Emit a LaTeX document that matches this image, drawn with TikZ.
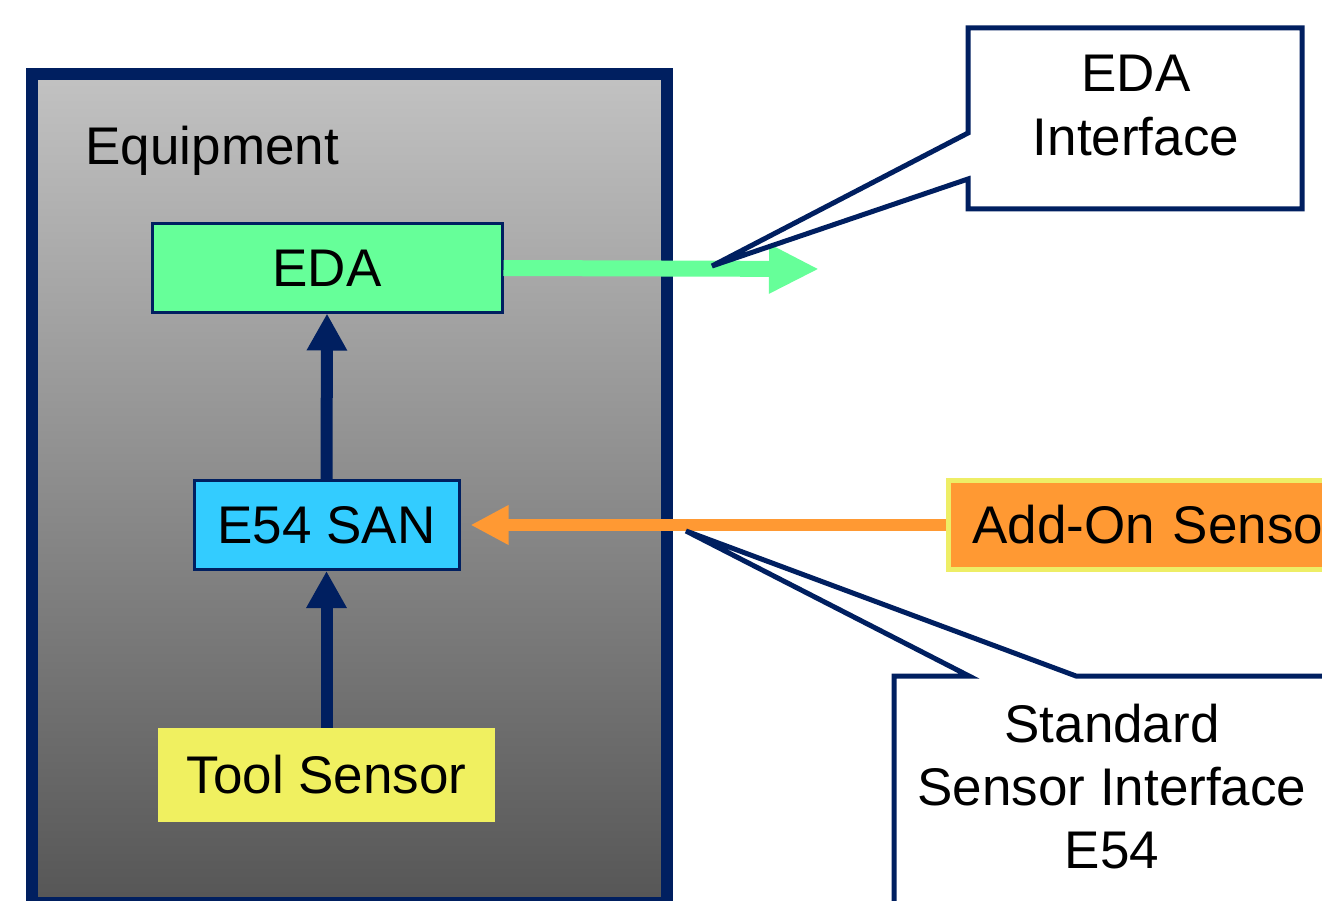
\documentclass[tikz,border=0pt]{standalone}
\usepackage{fontspec}
\setmainfont{Liberation Sans}
\usetikzlibrary{arrows.meta}
\definecolor{navy}{RGB}{0,31,96}
\definecolor{edagreen}{RGB}{102,255,153}
\definecolor{sancyan}{RGB}{51,204,255}
\definecolor{toolyellow}{RGB}{240,240,96}
\definecolor{addorange}{RGB}{255,153,51}
\definecolor{addborder}{RGB}{238,238,102}
\tikzset{
  txt/.style={font=\fontsize{53}{63}\selectfont, text=black},
  block/.style={txt, rectangle, inner sep=0pt},
  upflow/.style={line width=12pt, draw=navy, -{Triangle[length=37pt,width=38pt]}},
  callout/.style={line width=5pt, draw=navy, fill=white, line join=miter},
}
\begin{document}
\begin{tikzpicture}[x=1pt,y=-1pt]
\clip (0,0) rectangle (1322,901);
\fill[white] (0,0) rectangle (1322,901);

% equipment enclosure
\draw[line width=12pt, draw=navy, top color={rgb,255:red,194;green,194;blue,194}, bottom color={rgb,255:red,86;green,86;blue,86}]
  (32,74) rectangle (667,903);
\node[txt, anchor=base west] (equip) at (82,165) {Equipment};

% function blocks
\node[block, draw=navy, line width=3pt, fill=edagreen, minimum width=350pt, minimum height=88pt] (eda) at (327,268) {EDA};
\node[block, draw=navy, line width=3pt, fill=sancyan, minimum width=265pt, minimum height=89pt] (san) at (326.5,525) {E54 SAN};
\node[block, fill=toolyellow, minimum width=337pt, minimum height=94pt] (tool) at (326.5,775) {Tool Sensor};

% external sensor
\node[block, draw=addborder, line width=5pt, fill=addorange, anchor=west, minimum width=400pt, minimum height=89pt,
      text width=400pt, align=left, inner xsep=0pt] (addon) at (946,525) {\hspace*{24pt}Add-On Sensor};

% data flows
\coordinate (edaout) at (819,269);
\draw[upflow] (tool.north) -- (san.south);
\draw[upflow] (san.north) -- (eda.south);
\draw[line width=16pt, draw=edagreen, -{Triangle[length=50pt,width=46pt]}] (eda.east) -- (edaout);
\draw[line width=12pt, draw=addorange, -{Triangle[length=38pt,width=37pt]}, shorten >=10pt] (addon.west) -- (san.east);

% callouts
\draw[callout] (968,28) -- (1302,28) -- (1302,209) -- (968,209) -- (968,179) -- (712,266) -- (968,133) -- cycle;
\node[txt, anchor=base] (edaT1) at (1136,92) {EDA};
\node[txt, anchor=base] (edaT2) at (1136,156) {Interface};

\draw[callout] (894,676) -- (969,676) -- (686,531) -- (1076,676) -- (1340,676) -- (1340,910) -- (894,910) -- cycle;
\node[txt, anchor=base] (stdT1) at (1112,742) {Standard};
\node[txt, anchor=base] (stdT2) at (1112,805) {Sensor Interface};
\node[txt, anchor=base] (stdT3) at (1112,868) {E54};
\end{tikzpicture}
\end{document}
